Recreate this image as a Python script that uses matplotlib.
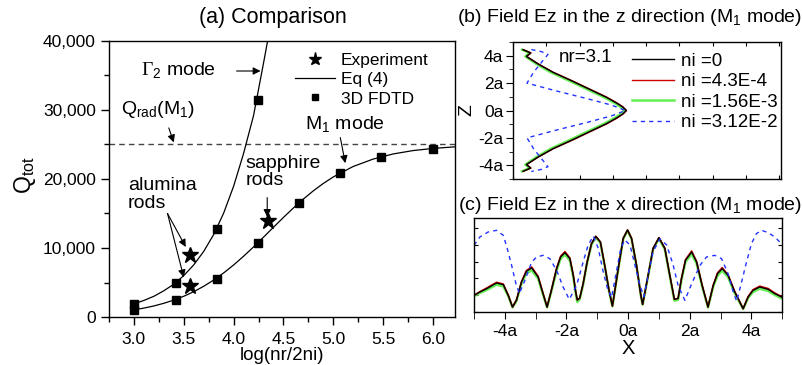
import matplotlib
matplotlib.use("Agg")
import matplotlib.pyplot as plt
from matplotlib.ticker import MultipleLocator, StrMethodFormatter, NullFormatter

plt.rcParams['font.family'] = ['Liberation Sans', 'DejaVu Sans']
plt.rcParams['mathtext.fontset'] = 'custom'
plt.rcParams['mathtext.rm'] = 'Liberation Sans'
plt.rcParams['mathtext.sf'] = 'Liberation Serif'
plt.rcParams['axes.linewidth'] = 1.0

# ---- (a) comparison data ----
g2_fdtd_x = [3.0, 3.42, 3.83, 4.24]
g2_fdtd_y = [1900, 5000, 12750, 31450]
m1_fdtd_x = [3.0, 3.42, 3.83, 4.24, 4.66, 5.07, 5.48, 6.0]
m1_fdtd_y = [1010, 2460, 5460, 10700, 16520, 20820, 23150, 24400]
exp_x = [3.56, 3.56, 4.34]
exp_y = [8990, 4490, 13960]
g2_eq_x = [3.0, 3.1, 3.2, 3.3, 3.4, 3.5, 3.6, 3.7, 3.8, 3.9, 4.0, 4.1, 4.2, 4.3, 4.36]
g2_eq_y = [1900, 2400, 3000, 3800, 4750, 6000, 7550, 9500, 11950, 15050,
           18950, 23700, 29200, 36800, 41500]
m1_eq_x = [3.0, 3.1, 3.2, 3.3, 3.4, 3.5, 3.6, 3.7, 3.8, 3.9, 4.0, 4.1, 4.2, 4.3,
           4.4, 4.5, 4.6, 4.7, 4.8, 4.9, 5.0, 5.2, 5.4, 5.6, 5.8, 6.0, 6.22]
m1_eq_y = [1035, 1290, 1600, 1985, 2450, 3005, 3670, 4450, 5355, 6385, 7540,
           8805, 10160, 11570, 13010, 14430, 15810, 17100, 18290, 19360, 20300,
           21820, 22890, 23630, 24120, 24430, 24660]
q_rad = 25000

# ---- (b) field along z ----
zb = [4.44, 4.20, 3.95, 3.40, 2.79, 2.18, 1.58, 0.97, 0.56, 0.25, 0.0,
      -0.25, -0.56, -0.97, -1.58, -2.18, -2.79, -3.40, -3.95, -4.20, -4.44]
ez_b_0 = [0.30, 0.53, 0.40, 0.75, 1.20, 1.75, 2.27, 2.80, 3.10, 3.30, 3.40,
          3.30, 3.10, 2.80, 2.27, 1.75, 1.20, 0.75, 0.40, 0.53, 0.30]
ez_b_1 = [0.31, 0.54, 0.41, 0.76, 1.21, 1.77, 2.29, 2.82, 3.12, 3.31, 3.41,
          3.31, 3.12, 2.82, 2.29, 1.77, 1.21, 0.76, 0.41, 0.54, 0.31]
ez_b_2 = [0.27, 0.50, 0.37, 0.70, 1.13, 1.68, 2.20, 2.73, 3.04, 3.24, 3.34,
          3.24, 3.04, 2.73, 2.20, 1.68, 1.13, 0.70, 0.37, 0.50, 0.27]
zb_3 = [4.45, 4.30, 4.10, 3.50, 2.80, 2.00, 1.46, 0.85, 0.40, 0.0,
        -0.40, -0.85, -1.46, -2.00, -2.80, -3.50, -4.10, -4.30, -4.45]
ez_b_3 = [0.55, 0.85, 1.05, 0.85, 0.62, 0.42, 1.25, 2.25, 2.95, 3.38,
          2.95, 2.25, 1.25, 0.42, 0.62, 0.85, 1.05, 0.85, 0.55]
labels_b = ['ni =0', 'ni =4.3E-4', 'ni =1.56E-3', 'ni =3.12E-2']

# ---- (c) field along x ----
xc = [-5.0, -4.81, -4.59, -4.27, -4.05, -3.89, -3.75, -3.62, -3.46, -3.30,
      -3.13, -2.92, -2.76, -2.63, -2.49, -2.32, -2.19, -2.05, -1.89, -1.78,
      -1.70, -1.65, -1.57, -1.46, -1.33, -1.19, -1.05, -0.90, -0.76, -0.62,
      -0.51, -0.32, -0.16, -0.02, 0.11, 0.27, 0.41, 0.47, 0.65, 0.81,
      1.00, 1.19, 1.35, 1.50, 1.62, 1.73, 1.86, 2.06, 2.22, 2.40,
      2.59, 2.76, 2.90, 3.05, 3.24, 3.46, 3.73, 3.89, 4.05, 4.27,
      4.54, 4.76, 4.98]
ez_c_0 = [0.98, 1.18, 1.38, 1.72, 1.62, 0.98, 0.28, 0.70, 1.78, 2.42,
          2.62, 2.08, 1.08, 0.28, 1.28, 2.58, 3.28, 3.54, 3.18, 2.18,
          1.18, 0.70, 0.82, 1.68, 2.98, 4.08, 4.52, 4.18, 2.78, 1.28,
          0.34, 2.60, 4.40, 4.90, 4.40, 2.80, 1.00, 0.44, 2.20, 3.80,
          4.44, 3.80, 2.20, 0.74, 0.80, 1.98, 3.08, 3.58, 2.98, 1.58,
          0.28, 1.58, 2.28, 2.58, 2.18, 1.18, 0.18, 0.88, 1.28, 1.48,
          1.34, 1.08, 0.88]
ez_c_1 = [0.98, 1.20, 1.42, 1.76, 1.66, 1.00, 0.28, 0.72, 1.80, 2.47,
          2.68, 2.12, 1.10, 0.28, 1.30, 2.62, 3.33, 3.60, 3.22, 2.20,
          1.18, 0.70, 0.82, 1.68, 2.98, 4.08, 4.52, 4.18, 2.78, 1.28,
          0.34, 2.60, 4.40, 4.90, 4.40, 2.80, 1.00, 0.44, 2.20, 3.80,
          4.44, 3.80, 2.20, 0.74, 0.80, 2.00, 3.12, 3.64, 3.02, 1.60,
          0.28, 1.60, 2.33, 2.64, 2.22, 1.20, 0.18, 0.90, 1.32, 1.53,
          1.39, 1.12, 0.90]
ez_c_2 = [0.94, 1.12, 1.30, 1.62, 1.52, 0.94, 0.26, 0.66, 1.70, 2.30,
          2.48, 1.98, 1.02, 0.26, 1.22, 2.48, 3.18, 3.42, 3.08, 2.08,
          1.10, 0.58, 0.76, 1.62, 2.94, 4.02, 4.46, 4.12, 2.74, 1.24,
          0.32, 2.56, 4.36, 4.86, 4.36, 2.76, 0.98, 0.42, 2.16, 3.76,
          4.38, 3.74, 2.14, 0.66, 0.72, 1.90, 2.98, 3.46, 2.88, 1.52,
          0.26, 1.50, 2.16, 2.46, 2.08, 1.10, 0.16, 0.82, 1.18, 1.38,
          1.24, 1.00, 0.80]
xc_3 = [-5.0, -4.81, -4.54, -4.27, -4.05, -3.92, -3.78, -3.64, -3.53, -3.35,
        -3.13, -2.97, -2.76, -2.54, -2.32, -2.11, -1.91, -1.67, -1.46, -1.30,
        -1.13, -0.97, -0.81, -0.67, -0.54, -0.38, -0.24, -0.11, 0.06, 0.22,
        0.38, 0.51, 0.67, 0.81, 1.03, 1.25, 1.46, 1.62, 1.84, 2.06,
        2.33, 2.54, 2.81, 3.03, 3.24, 3.41, 3.52, 3.68, 3.84, 4.00,
        4.16, 4.33, 4.54, 4.76, 4.98]
ez_c_3 = [3.98, 4.48, 4.78, 4.88, 4.58, 3.78, 2.78, 1.68, 1.08, 1.88,
          2.98, 3.28, 3.38, 3.18, 2.48, 1.48, 0.74, 1.58, 2.98, 3.98,
          4.54, 3.80, 2.40, 1.40, 0.84, 2.40, 3.80, 4.30, 4.00, 2.80,
          1.60, 0.90, 2.40, 3.60, 4.36, 4.00, 2.80, 1.58, 0.68, 1.68,
          2.78, 3.28, 3.38, 3.18, 2.28, 1.18, 0.62, 1.78, 2.98, 4.08,
          4.68, 4.88, 4.74, 4.48, 4.06]

fig = plt.figure(figsize=(8.03, 3.65), dpi=100)
ax_a = fig.add_axes([0.1357, 0.1315, 0.4309, 0.7562])
ax_b = fig.add_axes([0.6389, 0.5096, 0.3337, 0.3753])
ax_c = fig.add_axes([0.5903, 0.1460, 0.3839, 0.2559])

# ---------------- panel (a) ----------------
ax_a.axhline(q_rad, color='#444444', lw=1.0, dashes=(4, 3))
l_eq, = ax_a.plot(g2_eq_x, g2_eq_y, color='k', lw=0.9, label='Eq (4)')
ax_a.plot(m1_eq_x, m1_eq_y, color='k', lw=0.9)
l_sq, = ax_a.plot(g2_fdtd_x, g2_fdtd_y, 's', color='k', ms=5.5, label='3D FDTD')
ax_a.plot(m1_fdtd_x, m1_fdtd_y, 's', color='k', ms=5.5)
l_st, = ax_a.plot(exp_x, exp_y, '*', color='k', ms=12, label='Experiment')

ax_a.set_xlim(2.75, 6.22)
ax_a.set_ylim(0, 40000)
ax_a.xaxis.set_major_locator(MultipleLocator(0.5))
ax_a.xaxis.set_minor_locator(MultipleLocator(0.25))
ax_a.yaxis.set_major_locator(MultipleLocator(10000))
ax_a.yaxis.set_minor_locator(MultipleLocator(5000))
ax_a.xaxis.set_major_formatter(StrMethodFormatter('{x:.1f}'))
ax_a.yaxis.set_major_formatter(StrMethodFormatter('{x:,.0f}'))
ax_a.tick_params(which='major', direction='out', length=6, width=1, labelsize=12.5)
ax_a.tick_params(axis='x', which='major', pad=5)
ax_a.tick_params(which='minor', direction='out', length=3.5, width=1)
ax_a.set_xlabel('log(nr/2ni)', fontsize=13.5, labelpad=0)

leg = ax_a.legend(handles=[l_st, l_eq, l_sq], loc='upper left',
                  bbox_to_anchor=(0.512, 0.99), frameon=False, fontsize=12.5,
                  handlelength=2.3, handletextpad=0.35, labelspacing=0.25,
                  borderpad=0, markerscale=0.8)

arrow = dict(arrowstyle='-|>', color='k', lw=0.8, mutation_scale=11,
             shrinkA=0, shrinkB=0)
ax_a.text(3.07, 35650, r'$\mathsf{\Gamma}_\mathregular{2}$ mode', fontsize=14,
          ha='left', va='center')
ax_a.annotate('', xy=(4.27, 35650), xytext=(4.03, 35650), arrowprops=arrow)
ax_a.text(2.87, 30100, r'Q$_\mathregular{rad}$(M$_\mathregular{1}$)', fontsize=14,
          ha='left', va='center')
ax_a.annotate('', xy=(3.40, 25300), xytext=(3.35, 27400), arrowprops=arrow)
ax_a.text(4.72, 27900, r'M$_\mathregular{1}$ mode', fontsize=14,
          ha='left', va='center')
ax_a.annotate('', xy=(5.12, 22300), xytext=(5.07, 26000), arrowprops=arrow)
ax_a.text(4.12, 20950, 'sapphire\nrods', fontsize=14, ha='left', va='center',
          linespacing=1.0)
ax_a.annotate('', xy=(4.337, 14500), xytext=(4.337, 17300), arrowprops=arrow)
ax_a.text(2.94, 17750, 'alumina\nrods', fontsize=14, ha='left', va='center',
          linespacing=1.05)
ax_a.annotate('', xy=(3.52, 10150), xytext=(3.337, 15000), arrowprops=arrow)
ax_a.annotate('', xy=(3.50, 5750), xytext=(3.337, 15000), arrowprops=arrow)

fig.text(0.340, 0.951, '(a) Comparison', fontsize=15.5, ha='center', va='center')
fig.text(0.031, 0.52, r'Q$_\mathregular{tot}$', fontsize=16.5, rotation=90,
         ha='center', va='center')

# ---------------- panel (b) ----------------
ax_b.plot(ez_b_2, zb, color='#66ee55', lw=1.8, label=labels_b[2])
ax_b.plot(ez_b_1, zb, color='#cc0000', lw=1.0, label=labels_b[1])
ax_b.plot(ez_b_0, zb, color='k', lw=1.0, label=labels_b[0])
ax_b.plot(ez_b_3, zb_3, color='#2233ff', lw=1.0, dashes=(3, 3), label=labels_b[3])
hb, lb = ax_b.get_legend_handles_labels()
order = [lb.index(s) for s in labels_b]
ax_b.legend([hb[i] for i in order], [lb[i] for i in order], loc='upper left',
            bbox_to_anchor=(0.41, 0.99), frameon=False, fontsize=13.5,
            handlelength=2.2, handletextpad=0.4, labelspacing=0.18, borderpad=0)
ax_b.text(0.172, 0.89, 'nr=3.1', transform=ax_b.transAxes, fontsize=13.5,
          ha='left', va='center')
ax_b.set_xlim(0, 8.05)
ax_b.set_ylim(-5, 5)
ax_b.set_yticks([-4, -2, 0, 2, 4])
ax_b.set_yticklabels(['-4a', '-2a', '0a', '2a', '4a'])
ax_b.yaxis.set_minor_locator(MultipleLocator(1))
ax_b.xaxis.set_major_locator(MultipleLocator(1))
ax_b.xaxis.set_major_formatter(NullFormatter())
ax_b.tick_params(axis='y', which='major', direction='out', length=5, labelsize=12.5, pad=2)
ax_b.tick_params(axis='y', which='minor', direction='out', length=3)
ax_b.tick_params(axis='x', direction='in', length=3, top=True)
ax_b.set_ylabel('Z', fontsize=14, labelpad=2)
fig.text(0.7846, 0.951, r'(b) Field Ez in the z direction (M$_\mathregular{1}$ mode)',
         fontsize=14, ha='center', va='center')

# ---------------- panel (c) ----------------
ax_c.plot(xc, ez_c_2, color='#66ee55', lw=1.8)
ax_c.plot(xc, ez_c_1, color='#cc0000', lw=1.2)
ax_c.plot(xc, ez_c_0, color='k', lw=1.0)
ax_c.plot(xc_3, ez_c_3, color='#2233ff', lw=1.0, dashes=(3, 3))
ax_c.set_xlim(-5, 5)
ax_c.set_ylim(0, 5.6)
ax_c.set_xticks([-4, -2, 0, 2, 4])
ax_c.set_xticklabels(['-4a', '-2a', '0a', '2a', '4a'])
ax_c.xaxis.set_minor_locator(MultipleLocator(1))
ax_c.yaxis.set_major_locator(MultipleLocator(1))
ax_c.yaxis.set_major_formatter(NullFormatter())
ax_c.tick_params(axis='x', which='major', direction='out', length=5, labelsize=12.5)
ax_c.tick_params(axis='x', which='minor', direction='out', length=5)
ax_c.tick_params(axis='y', direction='in', length=3, right=True)
ax_c.set_xlabel('X', fontsize=14.5, labelpad=0)
fig.text(0.7846, 0.438, r'(c) Field Ez in the x direction (M$_\mathregular{1}$ mode)',
         fontsize=14, ha='center', va='center')

fig.savefig('out.png', dpi=100)
